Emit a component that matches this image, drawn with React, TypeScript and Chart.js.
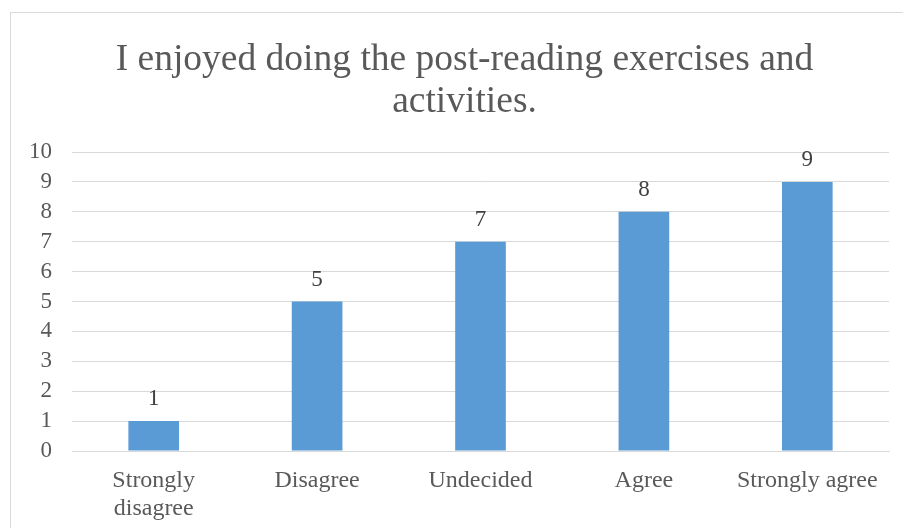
import React, { useEffect, useRef } from "react";
import { Chart, registerables } from "chart.js";

Chart.register(...registerables);

// Survey responses for the statement in the chart title
const categories: (string | string[])[] = [
  ["Strongly", "disagree"],
  "Disagree",
  "Undecided",
  "Agree",
  "Strongly agree",
];
const responses: number[] = [1, 5, 7, 8, 9];
const titleLines: string[] = [
  "I enjoyed doing the post-reading exercises and",
  "activities.",
];
const yMin = 0;
const yMax = 10;
const yStep = 1;

const SERIF = "'Liberation Serif', 'Times New Roman', serif";
const TEXT = "#595959";
const GRID = "#d9d9d9";
const BAR = "#5b9bd5";

// White page with the thin frame around the chart
const framePlugin = {
  id: "frame",
  beforeDraw(chart: Chart) {
    const { ctx, width, height } = chart;
    ctx.save();
    ctx.fillStyle = "#ffffff";
    ctx.fillRect(0, 0, width, height);
    ctx.strokeStyle = GRID;
    ctx.lineWidth = 1;
    ctx.strokeRect(10.5, 12.5, width + 20, height + 20);
    ctx.restore();
  },
};

// Two-line title, centred on the frame (which runs past the right edge)
const titlePlugin = {
  id: "frameTitle",
  afterDraw(chart: Chart) {
    const { ctx } = chart;
    const cx = 464.5;
    const lineHeight = 42.4;
    ctx.save();
    ctx.font = `37.5px ${SERIF}`;
    ctx.fillStyle = TEXT;
    ctx.textAlign = "center";
    ctx.textBaseline = "middle";
    titleLines.forEach((line, i) => {
      ctx.fillText(line, cx, 60 + i * lineHeight);
    });
    ctx.restore();
  },
};

// Value labels above each bar
const valueLabelPlugin = {
  id: "valueLabels",
  afterDatasetsDraw(chart: Chart) {
    const { ctx } = chart;
    const meta = chart.getDatasetMeta(0);
    const data = chart.data.datasets[0].data as number[];
    ctx.save();
    ctx.font = `23px ${SERIF}`;
    ctx.fillStyle = "#404040";
    ctx.textAlign = "center";
    ctx.textBaseline = "alphabetic";
    meta.data.forEach((bar: any, i: number) => {
      ctx.fillText(String(data[i]), bar.x, bar.y - 16);
    });
    ctx.restore();
  },
};

export default function App() {
  const canvasRef = useRef<HTMLCanvasElement | null>(null);

  useEffect(() => {
    if (!canvasRef.current) return;
    const chart = new Chart(canvasRef.current, {
      type: "bar",
      data: {
        labels: categories,
        datasets: [
          {
            data: responses,
            backgroundColor: BAR,
            borderWidth: 0,
            barPercentage: 0.31,
            categoryPercentage: 1,
          },
        ],
      },
      options: {
        responsive: false,
        animation: false,
        layout: { padding: { left: 10, right: 14, top: 152, bottom: 0 } },
        plugins: {
          legend: { display: false },
          tooltip: { enabled: false },
          title: { display: false },
        },
        scales: {
          x: {
            grid: { display: false, drawTicks: false },
            border: { display: true, color: GRID },
            ticks: {
              color: TEXT,
              font: { family: SERIF, size: 24, lineHeight: 1.17 },
              padding: 16,
              maxRotation: 0,
              autoSkip: false,
            },
            afterFit(scale: any) {
              scale.height = 77;
            },
          },
          y: {
            min: yMin,
            max: yMax,
            grid: { color: GRID, lineWidth: 1, drawTicks: false },
            border: { display: false },
            ticks: {
              stepSize: yStep,
              autoSkip: false,
              color: TEXT,
              font: { family: SERIF, size: 23 },
              padding: 20,
            },
            afterFit(scale: any) {
              scale.width = 62;
            },
          },
        },
      },
      plugins: [framePlugin, valueLabelPlugin, titlePlugin],
    });
    return () => chart.destroy();
  }, []);

  return (
    <div style={{ position: "absolute", left: 0, top: 0, width: 903, height: 528 }}>
      <canvas ref={canvasRef} width={903} height={528} />
    </div>
  );
}
